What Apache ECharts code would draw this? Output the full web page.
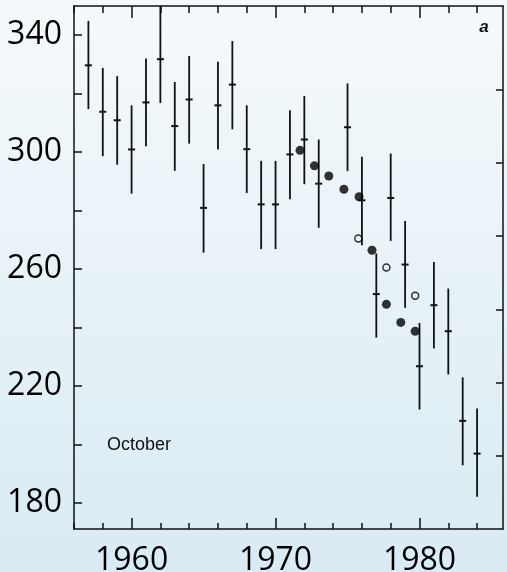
<!DOCTYPE html>
<html>
<head>
<meta charset="utf-8">
<script src="https://cdn.jsdelivr.net/npm/echarts@6/dist/echarts.min.js"></script>
<style>
  html, body { margin: 0; padding: 0; }
  #chart { width: 507px; height: 572px; }
</style>
</head>
<body>
<div id="chart"></div>
<script>
// October total ozone (Dobson units) — crosses with error bars
const years = [1957,1958,1959,1960,1961,1962,1963,1964,1965,1966,1967,1968,1969,1970,1971,1972,1973,1975,1976,1977,1978,1979,1980,1981,1982,1983,1984];
const means = [329.7,313.8,310.9,300.9,317.0,331.8,308.9,318.0,280.9,316.0,323.1,301.0,282.1,282.1,299.2,304.3,289.2,308.5,283.5,251.4,284.3,261.5,226.7,247.6,238.7,208.0,196.8];
const lows  = [314.7,298.6,295.7,285.8,302.0,316.8,293.6,302.9,265.6,300.9,307.8,286.0,266.8,266.8,283.9,289.0,274.1,293.5,268.1,236.5,269.6,246.7,211.9,232.8,223.9,192.8,182.0];
const highs = [344.9,328.8,326.0,316.0,332.0,350.0,324.0,332.9,295.9,330.9,338.0,316.0,297.0,297.0,314.3,319.2,304.3,323.5,298.4,265.3,299.5,276.4,241.5,262.4,253.3,222.9,212.2];

// Filled circles
const filledX = [1971.7,1972.7,1973.7,1974.75,1975.8,1976.7,1977.7,1978.7,1979.7];
const filledY = [300.6,295.3,291.8,287.3,284.7,266.4,247.9,241.7,238.7];

// Open circles
const openX = [1975.75,1977.7,1979.7];
const openY = [270.4,260.5,250.8];

// Tick labels
const xMinorTicks = [1956,1958,1960,1962,1964,1966,1968,1970,1972,1974,1976,1978,1980,1982,1984];
const xLabels = [1960,1970,1980];
const yTicks = [180,200,220,240,260,280,300,320,340];
const yLabels = [180,220,260,300,340];
const rightTicks = [1,2,3,4,5,6];

const chart = echarts.init(document.getElementById('chart'));

const lineStyle = { color: '#111', width: 1.5 };
const labelFont = { color: '#000', fontSize: 32, fontFamily: 'Open Sans', formatter: v => String(v) };

const xBase = { type: 'value', min: 1956, max: 1985.8, gridIndex: 0, splitLine: { show: false } };

const errData = years.map((y, i) => [y, lows[i], highs[i], means[i]]);

const option = {
  backgroundColor: {
    type: 'linear', x: 0, y: 0, x2: 0, y2: 1,
    colorStops: [{ offset: 0, color: '#f5f9fc' }, { offset: 1, color: '#d9ebf3' }]
  },
  animation: false,
  grid: { left: 74, right: 4, top: 6, bottom: 43, containLabel: false, outerBoundsMode: 'none' },
  xAxis: [
    Object.assign({}, xBase, {
      position: 'bottom',
      axisLine: { show: true, lineStyle },
      axisTick: { show: true, inside: true, length: 6, lineStyle, customValues: xMinorTicks },
      axisLabel: { show: true, margin: 16, customValues: xLabels, ...labelFont }
    }),
    Object.assign({}, xBase, {
      position: 'bottom',
      axisLine: { show: false },
      axisTick: { show: true, inside: true, length: 11, lineStyle, customValues: xLabels },
      axisLabel: { show: false }
    }),
    Object.assign({}, xBase, {
      position: 'top',
      axisLine: { show: true, lineStyle },
      axisTick: { show: true, inside: true, length: 7, lineStyle, customValues: xMinorTicks },
      axisLabel: { show: false }
    }),
    Object.assign({}, xBase, {
      position: 'top',
      axisLine: { show: false },
      axisTick: { show: true, inside: true, length: 12, lineStyle, customValues: xLabels },
      axisLabel: { show: false }
    })
  ],
  yAxis: [
    {
      type: 'value', min: 171, max: 350, position: 'left',
      splitLine: { show: false },
      axisLine: { show: true, lineStyle },
      axisTick: { show: true, inside: true, length: 8, lineStyle, customValues: yTicks },
      axisLabel: { show: true, margin: 12, customValues: yLabels, ...labelFont }
    },
    {
      type: 'value', min: 0, max: 7.145, position: 'right',
      splitLine: { show: false },
      axisLine: { show: true, lineStyle },
      axisTick: { show: true, inside: true, length: 7, lineStyle, customValues: rightTicks },
      axisLabel: { show: false }
    }
  ],
  series: [
    {
      type: 'custom',
      xAxisIndex: 0, yAxisIndex: 0,
      clip: true,
      data: errData,
      renderItem: function (params, api) {
        const x = api.value(0);
        const pLow = api.coord([x, api.value(1)]);
        const pHigh = api.coord([x, api.value(2)]);
        const pMean = api.coord([x, api.value(3)]);
        return {
          type: 'group',
          children: [
            { type: 'line', shape: { x1: pLow[0], y1: pLow[1], x2: pHigh[0], y2: pHigh[1] },
              style: { stroke: '#111', lineWidth: 1.8 } },
            { type: 'line', shape: { x1: pMean[0] - 3.5, y1: pMean[1], x2: pMean[0] + 3.5, y2: pMean[1] },
              style: { stroke: '#111', lineWidth: 2 } }
          ]
        };
      }
    },
    {
      type: 'scatter',
      xAxisIndex: 0, yAxisIndex: 0,
      symbol: 'circle', symbolSize: 9,
      itemStyle: { color: '#000' },
      data: filledX.map((x, i) => [x, filledY[i]])
    },
    {
      type: 'scatter',
      xAxisIndex: 0, yAxisIndex: 0,
      symbol: 'circle', symbolSize: 7,
      itemStyle: { color: 'rgba(0,0,0,0)', borderColor: '#000', borderWidth: 1.5 },
      data: openX.map((x, i) => [x, openY[i]])
    }
  ],
  graphic: [
    { type: 'text', x: 107, y: 445,
      style: { text: 'October', fill: '#111', font: '18px "Liberation Sans", Arial, sans-serif',
               textAlign: 'left', textVerticalAlign: 'middle', align: 'left', verticalAlign: 'middle' } },
    { type: 'text', x: 484, y: 27,
      style: { text: 'a', fill: '#111', font: 'italic bold 17px "Liberation Sans", Arial, sans-serif',
               textAlign: 'center', textVerticalAlign: 'middle', align: 'center', verticalAlign: 'middle' } }
  ]
};

chart.setOption(option);
</script>
</body>
</html>
